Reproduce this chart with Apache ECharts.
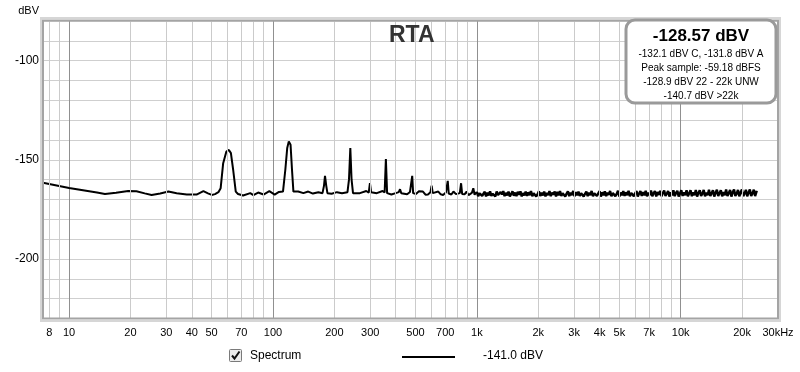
<!DOCTYPE html>
<html><head><meta charset="utf-8">
<script src="https://cdn.jsdelivr.net/npm/echarts@6/dist/echarts.min.js"></script>
<style>html,body{margin:0;padding:0;background:#fff;}#c{width:800px;height:372px;}</style>
</head><body><div id="c"></div>
<script>
// Spectrum below 1 kHz (Hz, dBV)
const lowFreq = [7.45,10,13.7,15,17,19.5,21.4,23.5,25.4,28,30.7,33.7,37.8,42.2,45.6,48,50.1,52,54,55.4,57,59.1,60.8,62.2,63.8,65.7,67.4,71.4,77.4,80.2,84.6,89.9,96,102,107,112,115,117.5,119.6,122,124,126,133,141,149,157,167,175,178,180,182.5,185,194,206,218,232,236,239.6,243,247,252,267,287,295,299,303,323,345,353,358,363,381,400,414,420,426,434,455,470,478,482,487,503,520,544,560,576,592,600,608,617,647,665,683,705,720,728,750,768,790,806,825,837,847,870,891,910,925,945,961,975,1000];
const lowLevel = [-161.6,-164.2,-166.5,-167.2,-166.6,-165.7,-165.8,-166.9,-167.7,-167.0,-166.0,-166.8,-167.5,-167.5,-165.8,-166.9,-167.7,-167.3,-166.3,-164.3,-151.7,-145.8,-145.0,-146.6,-155.0,-166.0,-167.2,-168.0,-166.8,-167.8,-166.5,-167.5,-165.8,-167.5,-166.2,-166.0,-155.0,-144.0,-140.7,-142.4,-155.0,-166.0,-166.0,-166.8,-166.0,-167.0,-166.3,-166.8,-163.0,-158.1,-163.0,-166.8,-167.1,-166.3,-166.8,-166.3,-160.0,-144.1,-160.0,-166.8,-166.3,-166.8,-165.7,-166.5,-161.8,-166.3,-166.8,-165.7,-166.5,-149.6,-166.8,-167.5,-166.8,-166.3,-164.8,-166.8,-166.6,-167.4,-166.2,-166.8,-158.1,-166.8,-167.2,-165.9,-166.0,-167.6,-167.5,-166.4,-163.0,-166.8,-167.3,-166.0,-167.4,-167.7,-166.5,-160.6,-167.0,-167.5,-166.0,-167.3,-167.7,-166.8,-161.8,-167.2,-167.4,-166.0,-167.8,-167.5,-166.7,-164.3,-167.6,-166.2];
// Noise floor from 1 kHz up (Hz, dBV)
const noiseFreq = [1000,1015,1030,1046,1062,1078,1094,1110,1127,1144,
1161,1178,1196,1214,1232,1251,1270,1289,1308,1328,
1348,1368,1388,1409,1430,1452,1474,1496,1518,1541,
1564,1588,1612,1636,1660,1685,1711,1736,1762,1789,
1816,1843,1871,1899,1927,1956,1986,2015,2046,2076,
2108,2139,2171,2204,2237,2271,2305,2339,2374,2410,
2446,2483,2520,2558,2596,2635,2675,2715,2756,2797,
2839,2882,2925,2969,3013,3059,3104,3151,3198,3246,
3295,3344,3394,3445,3497,3550,3603,3657,3712,3767,
3824,3881,3940,3999,4059,4119,4181,4244,4308,4372,
4438,4504,4572,4641,4710,4781,4853,4925,4999,5074,
5150,5228,5306,5386,5466,5548,5631,5716,5802,5889,
5977,6067,6158,6250,6344,6439,6536,6634,6733,6834,
6937,7041,7147,7254,7363,7473,7585,7699,7815,7932,
8051,8172,8294,8419,8545,8673,8803,8935,9069,9205,
9344,9484,9626,9770,9917,10066,10217,10370,10525,10683,
10843,11006,11171,11339,11509,11681,11857,12034,12215,12398,
12584,12773,12964,13159,13356,13556,13760,13966,14176,14388,
14604,14823,15045,15271,15500,15733,15969,16208,16451,16698,
16948,17203,17461,17723,17988,18258,18532,18810,19092,19378,
19669,19964,20264,20568,20876,21189,21507,21830,22157,22489,
22827,23169,23517,23600];
const noiseLevel = [-166.2,-168.3,-166.9,-165.9,-168.1,-167.4,-166.1,-168.4,-166.6,-167.9,
-165.9,-168.2,-167.1,-166.3,-168.5,-166.0,-167.7,-168.2,-166.2,-167.5,
-165.8,-168.3,-166.7,-167.9,-166.0,-168.4,-167.2,-165.9,-168.1,-166.5,
-168.3,-166.1,-167.6,-165.9,-168.4,-166.8,-167.9,-166.0,-168.2,-166.4,
-167.8,-165.8,-168.3,-166.9,-166.1,-168.5,-167.3,-165.9,-168.2,-166.6,
-167.9,-166.0,-168.4,-166.7,-167.8,-165.8,-168.3,-166.5,-167.6,-166.0,
-168.4,-166.2,-167.9,-165.8,-168.2,-166.9,-166.1,-168.5,-167.0,-165.9,
-168.3,-166.6,-167.8,-165.7,-168.4,-166.3,-167.9,-166.0,-168.2,-166.8,
-165.8,-168.5,-167.1,-166.0,-168.3,-166.5,-167.8,-165.7,-168.4,-166.9,
-166.1,-168.2,-167.4,-165.8,-168.5,-166.4,-167.9,-165.9,-168.3,-166.6,
-167.7,-165.7,-168.4,-166.8,-166.0,-168.3,-167.2,-165.6,-168.5,-166.5,
-167.9,-165.8,-168.2,-166.4,-167.8,-165.6,-168.4,-166.7,-165.9,-168.3,
-166.9,-165.7,-168.5,-167.0,-165.8,-168.2,-166.3,-167.9,-165.6,-168.4,
-166.6,-167.8,-165.5,-168.3,-166.9,-165.7,-168.5,-166.2,-167.7,-165.6,
-168.4,-166.8,-165.5,-168.2,-167.1,-165.7,-168.5,-166.4,-167.9,-165.4,
-168.3,-166.7,-165.6,-168.5,-167.0,-165.3,-168.2,-166.5,-167.8,-165.4,
-168.4,-166.9,-165.3,-168.3,-166.4,-167.9,-165.2,-168.5,-166.7,-165.4,
-168.2,-167.0,-165.2,-168.4,-166.5,-167.8,-165.1,-168.3,-166.8,-165.3,
-168.5,-166.6,-165.1,-168.2,-167.2,-165.3,-168.4,-166.3,-167.9,-165.0,
-168.3,-166.8,-165.2,-168.5,-166.4,-165.0,-168.2,-167.1,-165.2,-168.4,
-166.5,-164.9,-168.3,-167.0,-165.1,-168.4,-166.6,-165.0,-168.2,-166.9,
-165.1,-168.3,-166.2,-165.6];

const xTickLabels = [8,10,20,30,40,50,70,100,200,300,500,700,1000,2000,3000,4000,5000,7000,10000,20000,30000];
const yTickLabels = [-100,-150,-200];
const minorGridFreq = [8,9,20,30,40,50,60,70,80,90,200,300,400,500,600,700,800,900,2000,3000,4000,5000,6000,7000,8000,9000,20000];
const titleText = 'RTA';
const infoHeadline = '-128.57 dBV';
const infoLines = ['-132.1 dBV C, -131.8 dBV A','Peak sample: -59.18 dBFS','-128.9 dBV 22 - 22k UNW','-140.7 dBV >22k'];
const seriesName = 'Spectrum';
const seriesValue = '-141.0 dBV';

const lowData = lowFreq.map((f,i)=>[f,lowLevel[i]]);
const noiseData = noiseFreq.map((f,i)=>[f,noiseLevel[i]]);
const FONT = 'Liberation Sans, Arial, sans-serif';

const chart = echarts.init(document.getElementById('c'), null, {renderer:'canvas'});
const infoY = [54, 68.5, 82.5, 96];
chart.setOption({
  animation:false,
  backgroundColor:'#fff',
  title:{text:titleText,left:384,top:19,textStyle:{fontSize:23,fontWeight:'bold',color:'#333',fontFamily:FONT}},
  grid:{left:43,right:22,top:21,bottom:53.5,containLabel:false},
  xAxis:{type:'log',logBase:10,min:7.45,max:30000,
    axisLine:{show:false},axisTick:{show:false},
    splitLine:{show:true,lineStyle:{color:'#909090',width:1}},
    axisLabel:{customValues:xTickLabels,margin:9,color:'#000',fontSize:11,fontFamily:FONT,
      formatter:function(v){v=Math.round(v); if(v>=30000) return '30kHz'; return v>=1000?(v/1000)+'k':String(v);}}
  },
  yAxis:{type:'value',min:-230,max:-80,interval:10,name:'dBV',nameLocation:'end',nameGap:5,
    nameTextStyle:{align:'right',padding:[0,4,0,0],color:'#000',fontSize:11,fontFamily:FONT},
    axisLine:{show:false},axisTick:{show:false},
    splitLine:{show:true,lineStyle:{color:'#cfcfcf',width:1}},
    axisLabel:{customValues:yTickLabels,margin:4,color:'#000',fontSize:12,fontFamily:FONT}
  },
  series:[
    {type:'line',data:[],z:1,silent:true,
      markLine:{silent:true,symbol:['none','none'],label:{show:false},animation:false,
        lineStyle:{color:'#cbcbcb',width:1,type:'solid'},
        emphasis:{disabled:true},
        data:minorGridFreq.map(v=>({xAxis:v}))}},
    {type:'line',name:seriesName,data:lowData,showSymbol:false,symbol:'none',z:3,
      lineStyle:{color:'#000',width:2},silent:true},
    {type:'line',name:seriesName,data:noiseData,showSymbol:false,symbol:'none',z:3,
      lineStyle:{color:'#000',width:2.4},silent:true}
  ],
  graphic:[
    {type:'rect',z:100,shape:{x:41,y:18,width:739,height:303},style:{fill:null,stroke:'#d6d6d6',lineWidth:2}},
    {type:'rect',z:101,shape:{x:43,y:20.5,width:735,height:298},style:{fill:null,stroke:'#a4a4a4',lineWidth:2}},
    {type:'rect',z:110,shape:{x:626,y:20,width:150,height:83,r:9},style:{fill:'#fff',stroke:'#9a9a9a',lineWidth:3}},
    {type:'text',z:111,x:701,y:36,style:{text:infoHeadline,font:'bold 17px '+FONT,fill:'#000',align:'center',verticalAlign:'middle'}},
    ...infoLines.map((t,i)=>({type:'text',z:111,x:701,y:infoY[i],style:{text:t,font:'10px '+FONT,fill:'#000',align:'center',verticalAlign:'middle'}})),
    {type:'rect',z:110,shape:{x:229.5,y:349.5,width:12,height:12,r:1},style:{fill:'#ececec',stroke:'#7a7a7a',lineWidth:1}},
    {type:'polyline',z:111,shape:{points:[[232,355.5],[234.5,358.5],[239.5,351.5]]},style:{stroke:'#111',lineWidth:2,fill:null}},
    {type:'text',z:110,x:250,y:356,style:{text:seriesName,font:'12px '+FONT,fill:'#000',verticalAlign:'middle'}},
    {type:'line',z:110,shape:{x1:402,y1:357,x2:455,y2:357},style:{stroke:'#000',lineWidth:2}},
    {type:'text',z:110,x:483,y:356,style:{text:seriesValue,font:'12px '+FONT,fill:'#000',verticalAlign:'middle'}}
  ]
});
</script></body></html>
